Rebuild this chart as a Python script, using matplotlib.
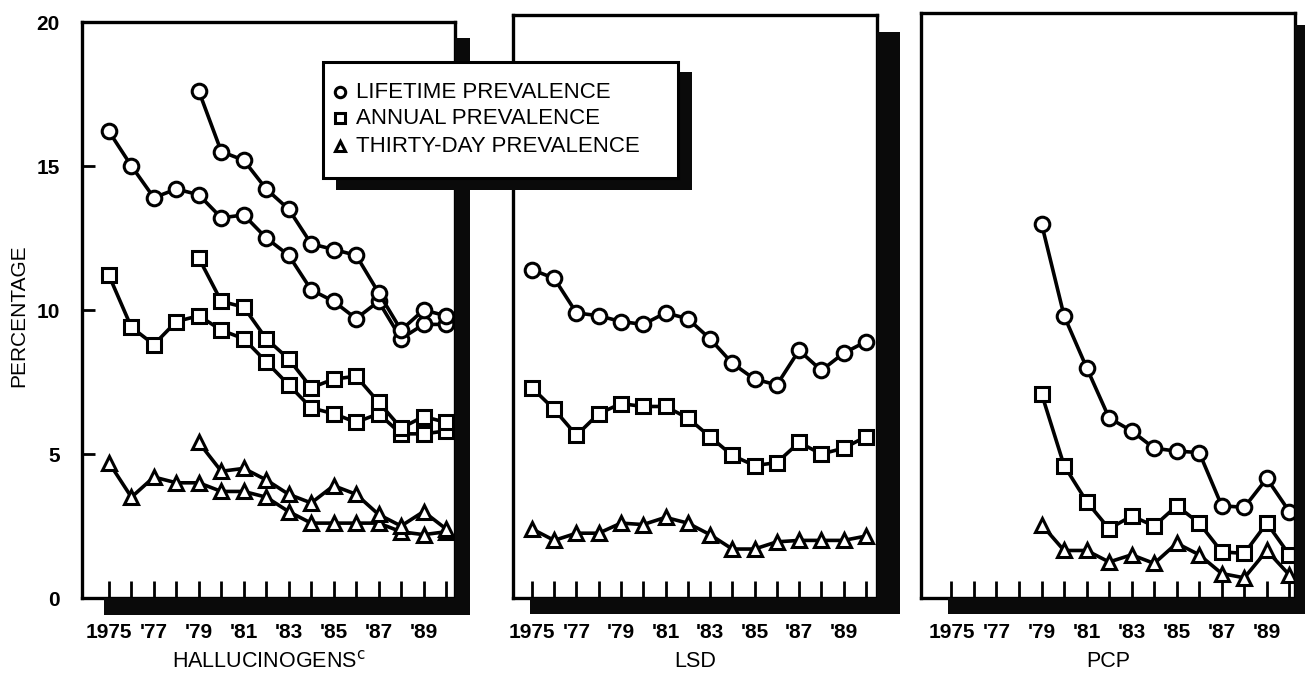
import matplotlib
matplotlib.use("Agg")
import matplotlib.pyplot as plt
from matplotlib.patches import Rectangle
from matplotlib.lines import Line2D

plt.rcParams['font.family'] = ['Liberation Sans', 'DejaVu Sans']

years = list(range(1975, 1991))
adj_years = list(range(1979, 1991))

# hallucinogens (1975-90) and the adjusted series from 1979
hall_life = [16.2, 15.0, 13.9, 14.2, 14.0, 13.2, 13.3, 12.5, 11.9, 10.7, 10.3, 9.7, 10.3, 9.0, 9.5, 9.5]
hall_annual = [11.2, 9.4, 8.8, 9.6, 9.8, 9.3, 9.0, 8.2, 7.4, 6.6, 6.4, 6.1, 6.4, 5.7, 5.7, 5.8]
hall_30day = [4.7, 3.5, 4.2, 4.0, 4.0, 3.7, 3.7, 3.5, 3.0, 2.6, 2.6, 2.6, 2.6, 2.3, 2.2, 2.3]
hall_adj_life = [17.6, 15.5, 15.2, 14.2, 13.5, 12.3, 12.1, 11.9, 10.6, 9.3, 10.0, 9.8]
hall_adj_annual = [11.8, 10.3, 10.1, 9.0, 8.3, 7.3, 7.6, 7.7, 6.8, 5.9, 6.3, 6.1]
hall_adj_30day = [5.4, 4.4, 4.5, 4.1, 3.6, 3.3, 3.9, 3.6, 2.9, 2.5, 3.0, 2.4]

lsd_life = [11.4, 11.1, 9.9, 9.8, 9.6, 9.5, 9.9, 9.7, 9.0, 8.15, 7.6, 7.4, 8.6, 7.9, 8.5, 8.9]
lsd_annual = [7.3, 6.55, 5.65, 6.4, 6.75, 6.65, 6.65, 6.25, 5.6, 4.95, 4.6, 4.7, 5.4, 5.0, 5.2, 5.6]
lsd_30day = [2.4, 2.0, 2.25, 2.25, 2.6, 2.55, 2.8, 2.6, 2.2, 1.7, 1.7, 1.95, 2.0, 2.0, 2.0, 2.15]

pcp_life = [13.0, 9.8, 8.0, 6.25, 5.8, 5.2, 5.1, 5.05, 3.2, 3.15, 4.15, 3.0]
pcp_annual = [7.1, 4.6, 3.35, 2.4, 2.85, 2.5, 3.2, 2.6, 1.6, 1.55, 2.6, 1.5]
pcp_30day = [2.55, 1.65, 1.65, 1.25, 1.5, 1.2, 1.9, 1.5, 0.85, 0.7, 1.65, 0.8]

tick_years = [1975, 1977, 1979, 1981, 1983, 1985, 1987, 1989]
tick_labels = ["1975", "'77", "'79", "'81", "'83", "'85", "'87", "'89"]
legend_labels = ["LIFETIME PREVALENCE", "ANNUAL PREVALENCE", "THIRTY-DAY PREVALENCE"]
panel_titles = [r"HALLUCINOGENS$^{\mathrm{c}}$", "LSD", "PCP"]

W, H = 1305, 680
fig = plt.figure(figsize=(W / 100, H / 100), dpi=100)


def px_rect(x0, y0, x1, y1, **kw):
    # rectangle given in image pixels (y down)
    r = Rectangle((x0 / W, 1 - y1 / H), (x1 - x0) / W, (y1 - y0) / H,
                  transform=fig.transFigure, **kw)
    fig.patches.append(r)


def add_axes(x0, y0, x1, y1):
    return fig.add_axes([x0 / W, 1 - y1 / H, (x1 - x0) / W, (y1 - y0) / H])


# box pixel extents and x-limits of each panel
boxes = [(82, 22, 455, 598), (513, 15, 877, 598), (921, 13, 1295, 598)]
xlims = [(1973.8, 1990.4), (1974.15, 1990.5), (1973.65, 1990.25)]
shadows = [((455, 38, 470, 615), (104, 598, 470, 615)),
           ((877, 32, 900, 614), (530, 598, 900, 614)),
           ((1295, 25, 1305, 614), (948, 598, 1305, 614))]

markers = ['o', 's', '^']
line_kw = dict(color='black', lw=2.6, markersize=10.5, markerfacecolor='white',
               markeredgecolor='black', markeredgewidth=2.2)

axes = []
for i, (b, xl) in enumerate(zip(boxes, xlims)):
    ax = add_axes(*b)
    px_per_unit = (598 - 22) / 20
    ax.set_ylim(0, (b[3] - b[1]) / px_per_unit)
    ax.set_xlim(*xl)
    for s in ax.spines.values():
        s.set_linewidth(2.4)
    ax.set_xticks(years)
    ax.set_xticklabels([tick_labels[tick_years.index(y)] if y in tick_years else "" for y in years],
                       fontsize=15, fontweight='bold')
    ax.tick_params(axis='x', direction='in', length=12, width=2, pad=18)
    if i == 0:
        ax.set_yticks([0, 5, 10, 15, 20])
        ax.set_yticklabels(["0", "5", "10", "15", "20"], fontsize=15, fontweight='bold')
        ax.tick_params(axis='y', direction='in', length=9, width=2, pad=16)
    else:
        ax.set_yticks([])
    ax.text(0.5, -(661 - 598) / 576, panel_titles[i], transform=ax.transAxes,
            ha='center', va='center', fontsize=15.5)
    for r in shadows[i]:
        px_rect(*r, facecolor='#0a0a0a', edgecolor='none', zorder=0.5)
    axes.append(ax)

axes[0].set_ylabel("PERCENTAGE", fontsize=15)
axes[0].yaxis.set_label_coords(-0.145, 0.49)

ax = axes[0]
for vals, m in zip([hall_life, hall_annual, hall_30day], markers):
    ax.plot(years, vals, marker=m, **line_kw)
for vals, m in zip([hall_adj_life, hall_adj_annual, hall_adj_30day], markers):
    ax.plot(adj_years, vals, marker=m, **line_kw)

ax = axes[1]
for vals, m in zip([lsd_life, lsd_annual, lsd_30day], markers):
    ax.plot(years, vals, marker=m, **line_kw)

ax = axes[2]
for vals, m in zip([pcp_life, pcp_annual, pcp_30day], markers):
    ax.plot(adj_years, vals, marker=m, clip_on=False, **line_kw)

# legend box with drop shadow, drawn on the figure
px_rect(336, 72, 692, 190, facecolor='#0a0a0a', edgecolor='none', zorder=5)
px_rect(323, 62, 678, 178, facecolor='white', edgecolor='black', lw=2.2, zorder=6)
rows_y = [92, 118, 146]
for m, lab, yy in zip(markers, legend_labels, rows_y):
    fig.lines.append(Line2D([340 / W], [1 - yy / H], transform=fig.transFigure, marker=m,
                            markersize=7.5, markerfacecolor='white', markeredgecolor='black',
                            markeredgewidth=2.2, linestyle='none', zorder=7))
    fig.text(356 / W, 1 - yy / H, lab, ha='left', va='center', fontsize=16, zorder=7)

fig.savefig("out.png", dpi=100)
